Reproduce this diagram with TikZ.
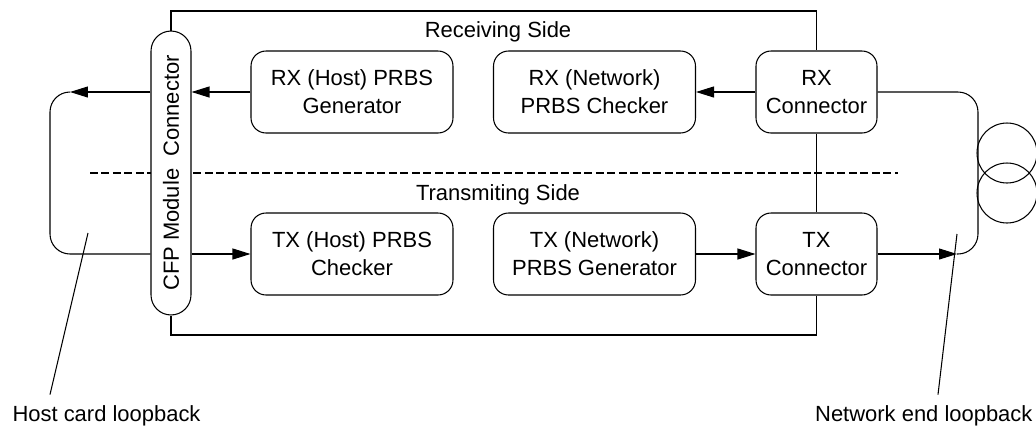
\documentclass[tikz,border=0pt]{standalone}
\usepackage{fontspec}
\setmainfont{Liberation Sans}
\usepackage{graphicx}
\usepackage{tikz}
\usetikzlibrary{arrows.meta,calc}

\tikzset{
	blk/.style={draw, rounded corners=0.3cm, minimum width=4.04cm, minimum height=1.64cm,
		align=center, inner sep=0pt},
	con/.style={blk, minimum width=2.42cm},
	capsule/.style={draw, fill=white, rounded corners=0.4cm, minimum width=0.8cm,
		minimum height=5.68cm, inner sep=0pt},
	lbl/.style={inner sep=0pt},
}

\begin{document}
\begin{tikzpicture}[x=0.02cm, y=-0.02cm, line width=0.6pt,
		font=\fontsize{12.5}{16}\selectfont,
		>={Triangle[length=0.36cm, width=0.22cm]}]
		\useasboundingbox (0,0) rectangle (1036,427);

		\coordinate (dl) at (90,173);
		\coordinate (dr) at (898,173);
		\coordinate (ftl) at (171,11);
		\coordinate (fbl) at (171,335);

		\coordinate (hostarr) at (70,92);
		\coordinate (hostbot) at (50,254);
		\coordinate (netarr)  at (957,254);
		\coordinate (netcnr)  at (978,254);

		\coordinate (hostpt) at (88,233);
		\coordinate (netpt)  at (957,234);

		% side divider
		\draw [dashed, dash pattern=on 0.16cm off 0.07cm] (dl) -- (dr);

		\node [lbl, anchor=base] (rxside) at (498,37) {Receiving Side};
		\node [lbl, anchor=base] (txside) at (498,200) {Transmiting Side};

		\node [capsule] (cfp) at (171,173) {\rotatebox{90}{CFP Module\ \ Connector}};

		\node [blk] (rxh) at (352,92)   {RX (Host) PRBS\\Generator};
		\node [blk] (rxn) at (594.5,92) {RX (Network)\\PRBS Checker};
		\node [con] (rxc) at (816.5,92) {RX\\Connector};

		\node [blk] (txh) at (352,254)   {TX (Host) PRBS\\Checker};
		\node [blk] (txn) at (594.5,254) {TX (Network)\\PRBS Generator};
		\node [con] (txc) at (816.5,254) {TX\\Connector};

		% module frame
		\draw (cfp.north) -- (ftl) -| (rxc.north);
		\draw (rxc.south) -- (txc.north);
		\draw (txc.south) |- (fbl) -- (cfp.south);

		% receiving path
		\draw [->] (rxc) -- (rxn);
		\draw [->] (rxh) -- (rxh -| cfp.east);
		\draw [->] (cfp.west |- rxh) -- (hostarr);
		\draw [rounded corners=0.4cm] (hostarr) -| (hostbot) -- (cfp.west |- txh);

		% transmitting path
		\draw [->] (cfp.east |- txh) -- (txh);
		\draw [->] (txn) -- (txc);
		\draw [->] (txc) -- (netarr);
		\draw [rounded corners=0.4cm] (rxc) -| (netcnr) -- (netarr);

		% fibre coil
		\draw (1007,153) circle [radius=0.6cm];
		\draw (1007,193) circle [radius=0.6cm];

		\node [lbl, anchor=base west] (hostlbl) at (12,421)   {Host card loopback};
		\node [lbl, anchor=base east] (netlbl)  at (1033,421) {Network end loopback};

		\draw (hostpt) -- ($(hostlbl.north west)+(38,-10)$);
		\draw (netpt)  -- ($(netlbl.north east)+(-95,-10)$);
	\end{tikzpicture}
\end{document}
